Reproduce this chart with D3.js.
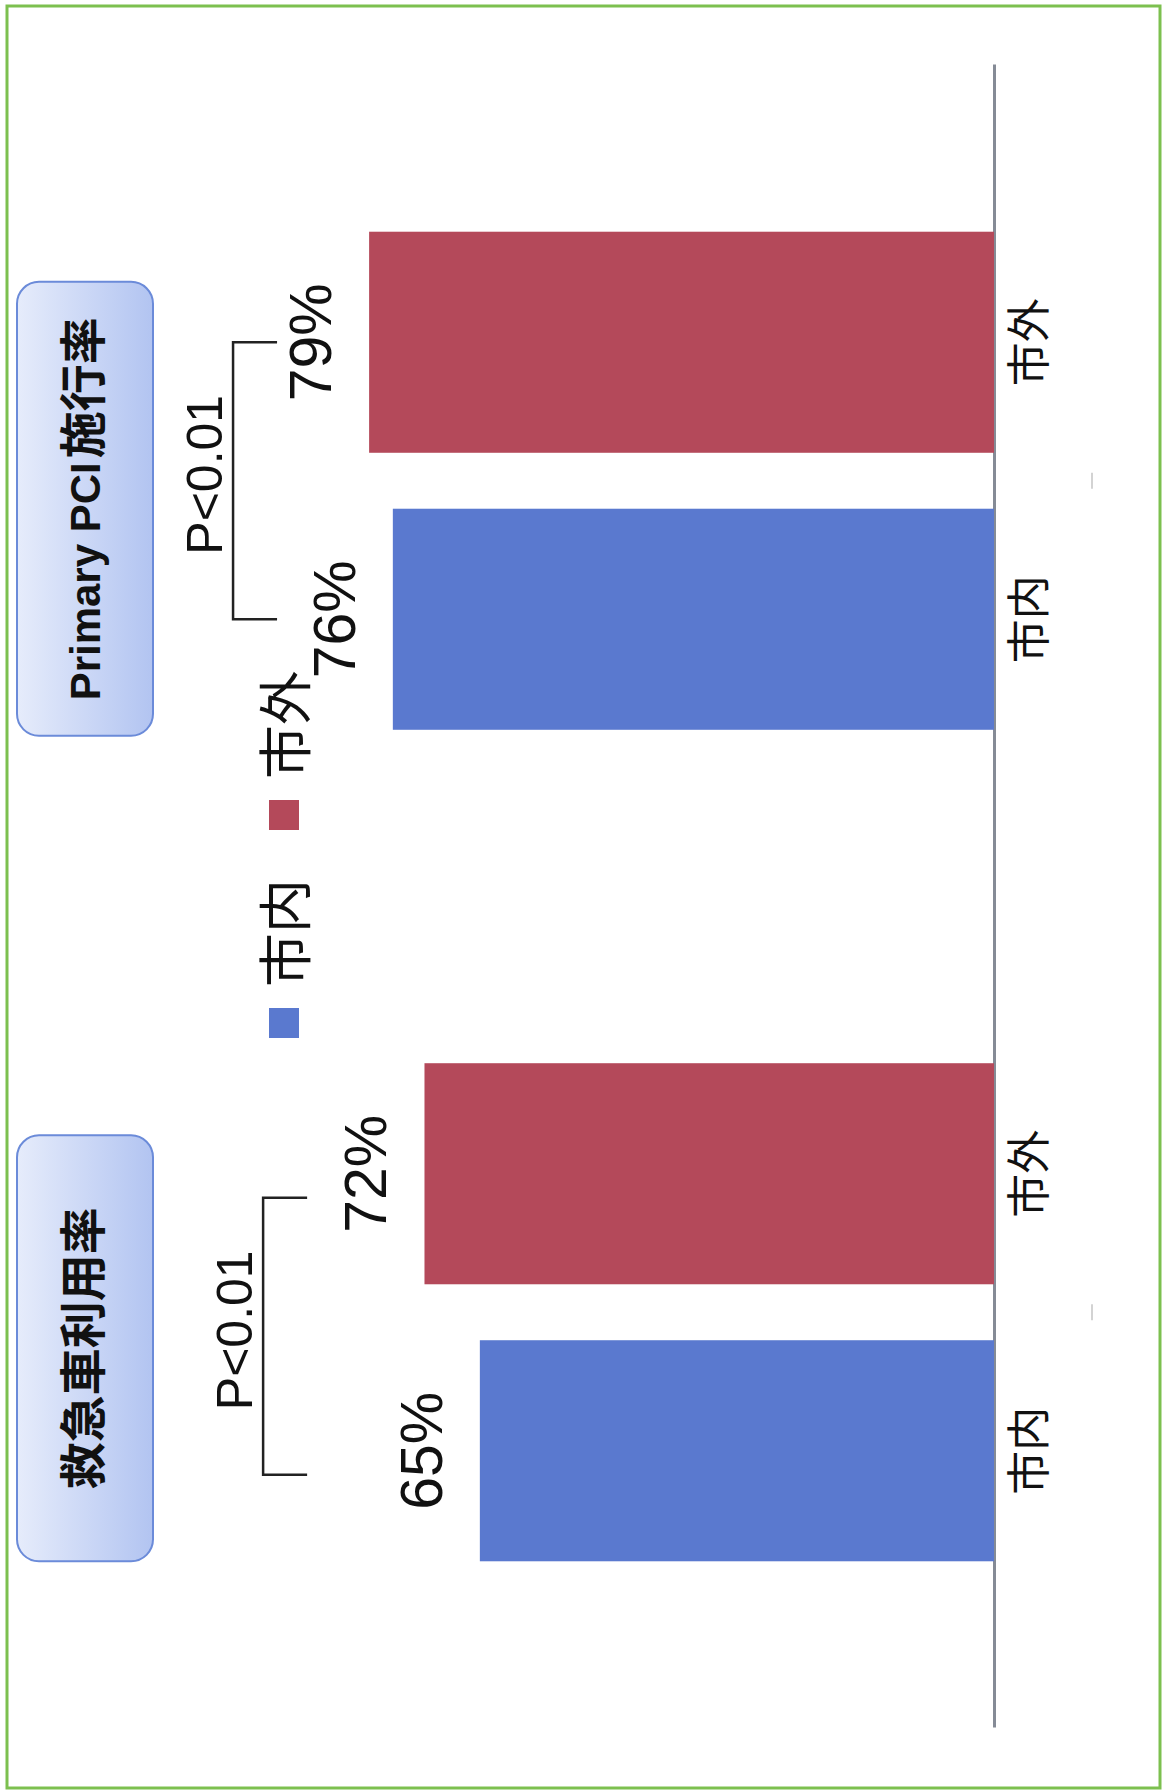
<!DOCTYPE html>
<html><head><meta charset="utf-8">
<script src="https://cdn.jsdelivr.net/npm/d3@7"></script>
<style>body{margin:0;background:#fff}svg{display:block}</style>
</head><body><div id="chart"></div>
<script>
// ---- data ----
const groups = ["救急車利用率", "Primary PCI 施行率"];
const series = ["市内", "市外"];
const valuesShinai = [65, 76];   // 市内 per group
const valuesShigai = [72, 79];   // 市外 per group
const pLabels = ["P<0.01", "P<0.01"];
const bracketLevel = [92.4, 96.2]; // % level of the significance bracket
const seriesColors = ["#5a79cf", "#b4495a"];

// ---- layout ----
const W = 1165, H = 1791;
const LW = H, LH = W;           // logical (unrotated) frame
const baseY = 994;
const svg = d3.select("#chart").append("svg").attr("width", W).attr("height", H);

const defs = svg.append("defs");
const grad = defs.append("linearGradient").attr("id", "boxGrad")
  .attr("x1", 0).attr("y1", 0).attr("x2", 0).attr("y2", 1);
grad.append("stop").attr("offset", "0%").attr("stop-color", "#e6ecfb");
grad.append("stop").attr("offset", "100%").attr("stop-color", "#b2c4f1");

// outer border (screen frame)
svg.append("rect").attr("x", 7).attr("y", 6).attr("width", 1153).attr("height", 1782)
  .attr("fill", "none").attr("stroke", "#7cc04f").attr("stroke-width", 3);

const g = svg.append("g").attr("transform", `translate(0,${H}) rotate(-90)`);

const x0 = d3.scaleBand().domain(groups).range([63, 1726]).paddingInner(0.401).paddingOuter(0.2005);
const x1 = d3.scaleBand().domain(series).range([0, x0.bandwidth()]).paddingInner(0.202);
const y = d3.scaleLinear().domain([0, 100]).range([baseY, baseY - 791]);

const data = groups.map((grp, i) => ({
  group: grp,
  items: [{ s: series[0], v: valuesShinai[i] }, { s: series[1], v: valuesShigai[i] }]
}));

// title boxes
const boxOffset = [0, -6], boxWidth = [426, 454];
data.forEach((d, i) => {
  const bx = x0(d.group) + boxOffset[i];
  g.append("rect").attr("x", bx).attr("y", 17).attr("width", boxWidth[i]).attr("height", 136)
    .attr("rx", 22).attr("ry", 22).attr("fill", "url(#boxGrad)")
    .attr("stroke", "#6b8bd9").attr("stroke-width", 2);
  const t = g.append("text").attr("x", bx + boxWidth[i] / 2).attr("y", 100)
    .attr("text-anchor", "middle").attr("font-weight", "bold").attr("fill", "#111");
  if (i === 0) {
    t.append("tspan").attr("font-family", "'Noto Sans CJK JP'").attr("font-size", 47).text(d.group);
  } else {
    const parts = d.group.split(" ");
    t.append("tspan").attr("font-family", "'Liberation Sans', Arial, sans-serif").attr("font-size", 42)
      .text(parts[0] + " " + parts[1]);
    t.append("tspan").attr("font-family", "'Noto Sans CJK JP'").attr("font-size", 47).attr("dx", 4).text(parts[2]);
  }
});

// baseline axis
const axis = g.append("g").attr("transform", `translate(0,${baseY})`)
  .call(d3.axisBottom(x0).tickSize(0).tickSizeOuter(0).tickFormat(""));
axis.select(".domain").attr("stroke", "#858b96").attr("stroke-width", 3);

// bars
const gg = g.selectAll(".grp").data(data).join("g").attr("class", "grp")
  .attr("transform", d => `translate(${x0(d.group)},0)`);
gg.selectAll("rect.bar").data(d => d.items).join("rect").attr("class", "bar")
  .attr("x", d => x1(d.s)).attr("width", x1.bandwidth())
  .attr("y", d => y(d.v)).attr("height", d => y(0) - y(d.v))
  .attr("fill", d => seriesColors[series.indexOf(d.s)]);

// value labels
gg.selectAll("text.val").data(d => d.items).join("text").attr("class", "val")
  .attr("x", d => x1(d.s) + x1.bandwidth() / 2).attr("y", d => y(d.v) - 38)
  .attr("text-anchor", "middle").attr("font-family", "'Liberation Sans', Arial, sans-serif")
  .attr("font-size", 59).attr("fill", "#111").text(d => d.v + "%");

// category labels via axis
gg.each(function () {
  const a = d3.select(this).append("g").attr("transform", `translate(0,${baseY})`)
    .call(d3.axisBottom(x1).tickSize(0).tickPadding(0));
  a.select(".domain").remove();
  a.selectAll("text").attr("font-family", "'Noto Sans CJK JP'").attr("font-size", 44)
    .attr("fill", "#111").attr("dy", null).attr("y", 51);
});

// small separator dashes between bars
gg.append("line")
  .attr("x1", x1(series[1]) - x1.step() * x1.paddingInner() / 2 - 8)
  .attr("x2", x1(series[1]) - x1.step() * x1.paddingInner() / 2 + 8)
  .attr("y1", 1092).attr("y2", 1092).attr("stroke", "#c4c4c4").attr("stroke-width", 1.5);

// significance brackets
const bracketShift = [-24, 0];
data.forEach((d, i) => {
  const xa = x0(d.group) + x1(series[0]) + x1.bandwidth() / 2 + bracketShift[i];
  const xb = x0(d.group) + x1(series[1]) + x1.bandwidth() / 2 + bracketShift[i];
  const by = y(bracketLevel[i]);
  g.append("path").attr("d", `M${xa},${by + 44}V${by}H${xb}V${by + 44}`)
    .attr("fill", "none").attr("stroke", "#222").attr("stroke-width", 2.5);
  g.append("text").attr("x", (xa + xb) / 2 + 6).attr("y", by - 11).attr("text-anchor", "middle")
    .attr("font-family", "'Liberation Sans', Arial, sans-serif").attr("font-size", 50)
    .attr("fill", "#111").text(pLabels[i]);
});

// legend
const legend = g.append("g").attr("transform", "translate(753,0)");
const legX = [0, 208];
series.forEach((s, i) => {
  legend.append("rect").attr("x", legX[i]).attr("y", 269).attr("width", 30).attr("height", 30)
    .attr("fill", seriesColors[i]);
  legend.append("text").attr("x", legX[i] + 51).attr("y", 306)
    .attr("font-family", "'Noto Sans CJK JP'").attr("font-size", 54).attr("fill", "#111").text(s);
});
</script>
</body></html>
